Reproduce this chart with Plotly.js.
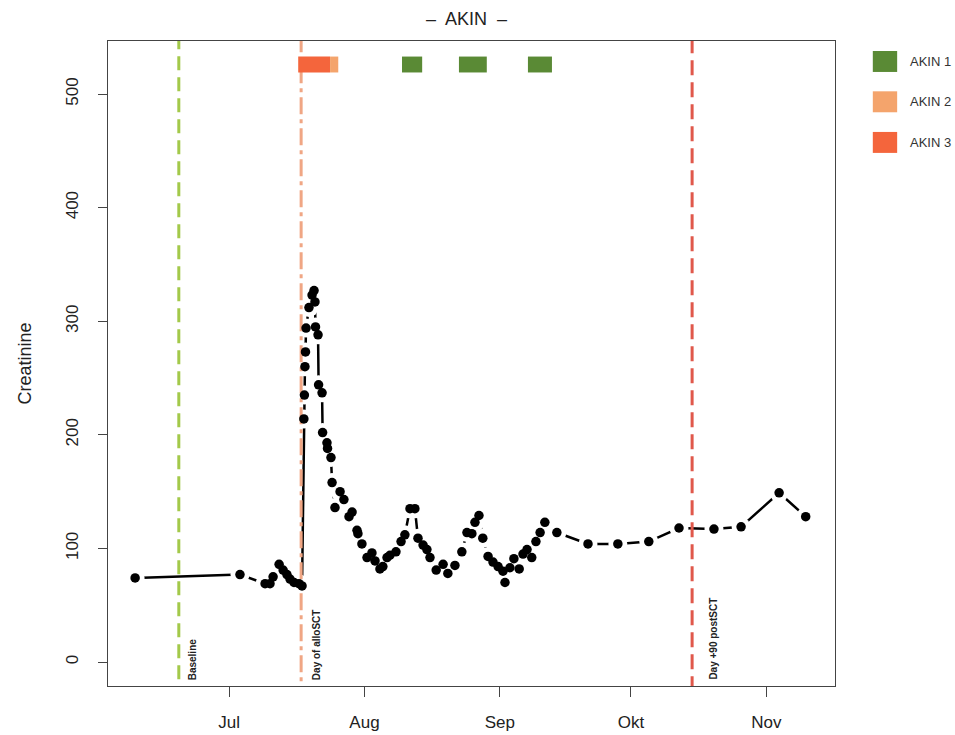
<!DOCTYPE html>
<html>
<head>
<meta charset="utf-8">
<script src="https://cdn.plot.ly/plotly-3.0.1.min.js"></script>
<style>
html,body{margin:0;padding:0;background:#fff;}
#chart{width:955px;height:735px;}
</style>
</head>
<body>
<div id="chart"></div>
<script>
// ---- data ----
const sampleDates = [
'2019-06-09 12:00','2019-07-03 12:00','2019-07-09 06:00','2019-07-10 09:00','2019-07-11 02:00',
'2019-07-12 11:00','2019-07-13 09:00','2019-07-14 06:00','2019-07-14 23:00','2019-07-15 21:00',
'2019-07-17 00:00','2019-07-17 17:00','2019-07-18 03:00','2019-07-18 06:00','2019-07-18 09:00',
'2019-07-18 12:00','2019-07-18 15:00','2019-07-19 07:00','2019-07-20 00:00','2019-07-20 11:00',
'2019-07-20 16:00','2019-07-20 19:00','2019-07-21 09:00','2019-07-21 12:00','2019-07-22 07:00',
'2019-07-22 10:00','2019-07-23 10:00','2019-07-23 13:00','2019-07-24 08:00','2019-07-24 14:00',
'2019-07-25 06:00','2019-07-26 10:00','2019-07-27 07:00','2019-07-28 11:00','2019-07-29 04:00',
'2019-07-30 07:00','2019-07-30 12:00','2019-07-31 10:00','2019-08-01 14:00','2019-08-02 17:00',
'2019-08-03 10:00','2019-08-04 13:00','2019-08-05 05:00','2019-08-06 04:00','2019-08-06 20:00',
'2019-08-08 05:00','2019-08-09 09:00','2019-08-10 06:00','2019-08-11 10:00','2019-08-12 13:00',
'2019-08-13 06:00','2019-08-14 10:00','2019-08-15 07:00','2019-08-16 00:00','2019-08-17 10:00',
'2019-08-19 00:00','2019-08-20 02:00','2019-08-21 17:00','2019-08-23 07:00','2019-08-24 11:00',
'2019-08-25 14:00','2019-08-26 07:00','2019-08-27 05:00','2019-08-28 02:00','2019-08-29 07:00',
'2019-08-30 10:00','2019-08-31 14:00','2019-09-01 17:00','2019-09-02 04:00','2019-09-03 07:00',
'2019-09-04 05:00','2019-09-05 10:00','2019-09-06 07:00','2019-09-07 05:00','2019-09-08 07:00',
'2019-09-09 06:00','2019-09-10 05:00','2019-09-11 07:00','2019-09-14 01:00','2019-09-21 04:00',
'2019-09-28 00:00','2019-10-05 02:00','2019-10-12 00:00','2019-10-20 00:00','2019-10-26 05:00',
'2019-11-03 22:00','2019-11-10 00:00'
];
const creatinine = [
74,77,69,69,75,
86,81,77,73,70,
69,67,214,235,260,
273,294,312,323,327,
317,295,288,244,237,
202,193,188,180,158,
136,150,143,128,132,
116,113,104,92,96,
89,82,84,92,94,
97,106,112,135,135,
109,103,99,92,81,
86,78,85,97,114,
113,123,129,109,93,
88,84,80,70,83,
91,82,95,99,92,
106,114,123,114,104,
104,106,118,117,119,
149,128
];

const eventDates  = ['2019-06-19 12:00','2019-07-17 12:00','2019-10-15 00:00'];
const eventLabels = ['Baseline','Day of alloSCT','Day +90 postSCT'];

const akinStart = ['2019-07-16 20:00','2019-07-24 03:00','2019-08-09 14:00','2019-08-22 15:00','2019-09-07 10:00'];
const akinEnd   = ['2019-07-24 03:00','2019-07-26 00:00','2019-08-14 05:00','2019-08-29 00:00','2019-09-12 22:00'];
const akinStage = [3,2,1,1,1];
const akinLegend = ['AKIN 1','AKIN 2','AKIN 3'];

const tickDates  = ['2019-07-01','2019-08-01','2019-09-01','2019-10-01','2019-11-01'];
const tickLabels = ['Jul','Aug','Sep','Okt','Nov'];
const yTicks = [0,100,200,300,400,500];

// ---- styles ----
const stageColor = {1:'#5a8a35', 2:'#f4a46c', 3:'#f4653c'};
const eventColor = ['#a3c94a','#f0a684','#e0584b'];
const eventDash  = ['14px,7px','17px,5px,4px,5px','15px,7px'];
const eventShift = [6,8,13];
const font = 'Liberation Sans, Arial, sans-serif';

const traces = [];
traces.push({x:sampleDates, y:creatinine, type:'scatter', mode:'lines',
  line:{color:'#000', width:2.5}, hoverinfo:'skip', showlegend:false});
traces.push({x:sampleDates, y:creatinine, type:'scatter', mode:'markers',
  marker:{color:'#fff', size:19}, hoverinfo:'skip', showlegend:false, cliponaxis:true});
eventDates.forEach((d,i)=>{
  traces.push({x:[d,d], y:[-200,800], type:'scatter', mode:'lines',
    line:{color:eventColor[i], width:3, dash:eventDash[i]}, hoverinfo:'skip', showlegend:false});
});
traces.push({x:sampleDates, y:creatinine, type:'scatter', mode:'markers',
  marker:{color:'#000', size:9.5}, showlegend:false});

const shapes = [];
akinStart.forEach((s,i)=>{
  shapes.push({type:'rect', xref:'x', yref:'y', x0:s, x1:akinEnd[i], y0:519, y1:533,
    fillcolor:stageColor[akinStage[i]], line:{width:0}, layer:'above'});
});
const annotations = [];
eventDates.forEach((d,i)=>{
  annotations.push({x:d, xref:'x', y:0, yref:'paper', text:eventLabels[i], textangle:-90,
    xanchor:'left', yanchor:'bottom', xshift:eventShift[i], yshift:4, showarrow:false,
    font:{family:font, size:10, color:'#222', weight:'bold'}});
});
// legend
akinLegend.forEach((lab,i)=>{
  const stage = i+1;
  const top = [0.9845,0.922,0.859][i];
  shapes.push({type:'rect', xref:'paper', yref:'paper', x0:1.052, x1:1.0855, y0:top-0.0325, y1:top,
    fillcolor:stageColor[stage], line:{width:0}});
  annotations.push({xref:'paper', yref:'paper', x:1.1, y:top-0.0165, text:lab, showarrow:false,
    xanchor:'left', yanchor:'middle', font:{family:font, size:13, color:'#333'}});
});

const layout = {
  width:955, height:735,
  margin:{l:108, r:120, t:41, b:49},
  paper_bgcolor:'#fff', plot_bgcolor:'#fff',
  showlegend:false,
  title:{text:'–  AKIN  –', x:0.493, xref:'paper', y:0.975, yref:'container', yanchor:'middle',
    font:{family:font, size:18, color:'#222'}},
  xaxis:{type:'date', range:['2019-06-03 07:00','2019-11-16 17:00'],
    tickvals:tickDates, ticktext:tickLabels, ticks:'outside', ticklen:10, tickcolor:'#444',
    showgrid:false, zeroline:false, showline:true, mirror:true, linecolor:'#444', linewidth:1.2,
    tickfont:{family:font, size:17, color:'#222'}, ticklabelstandoff:10},
  yaxis:{range:[-21.1,546.7], tickvals:yTicks, ticks:'outside', ticklen:9, tickcolor:'#444',
    tickangle:-90, showgrid:false, zeroline:false, showline:true, mirror:true, linecolor:'#444', linewidth:1.2,
    tickfont:{family:font, size:17, color:'#222'}, ticklabelstandoff:13,
    title:{text:'Creatinine', font:{family:font, size:18, color:'#222'}, standoff:26}},
  shapes:shapes, annotations:annotations
};
Plotly.newPlot('chart', traces, layout, {displayModeBar:false, staticPlot:true});
</script>
</body>
</html>
